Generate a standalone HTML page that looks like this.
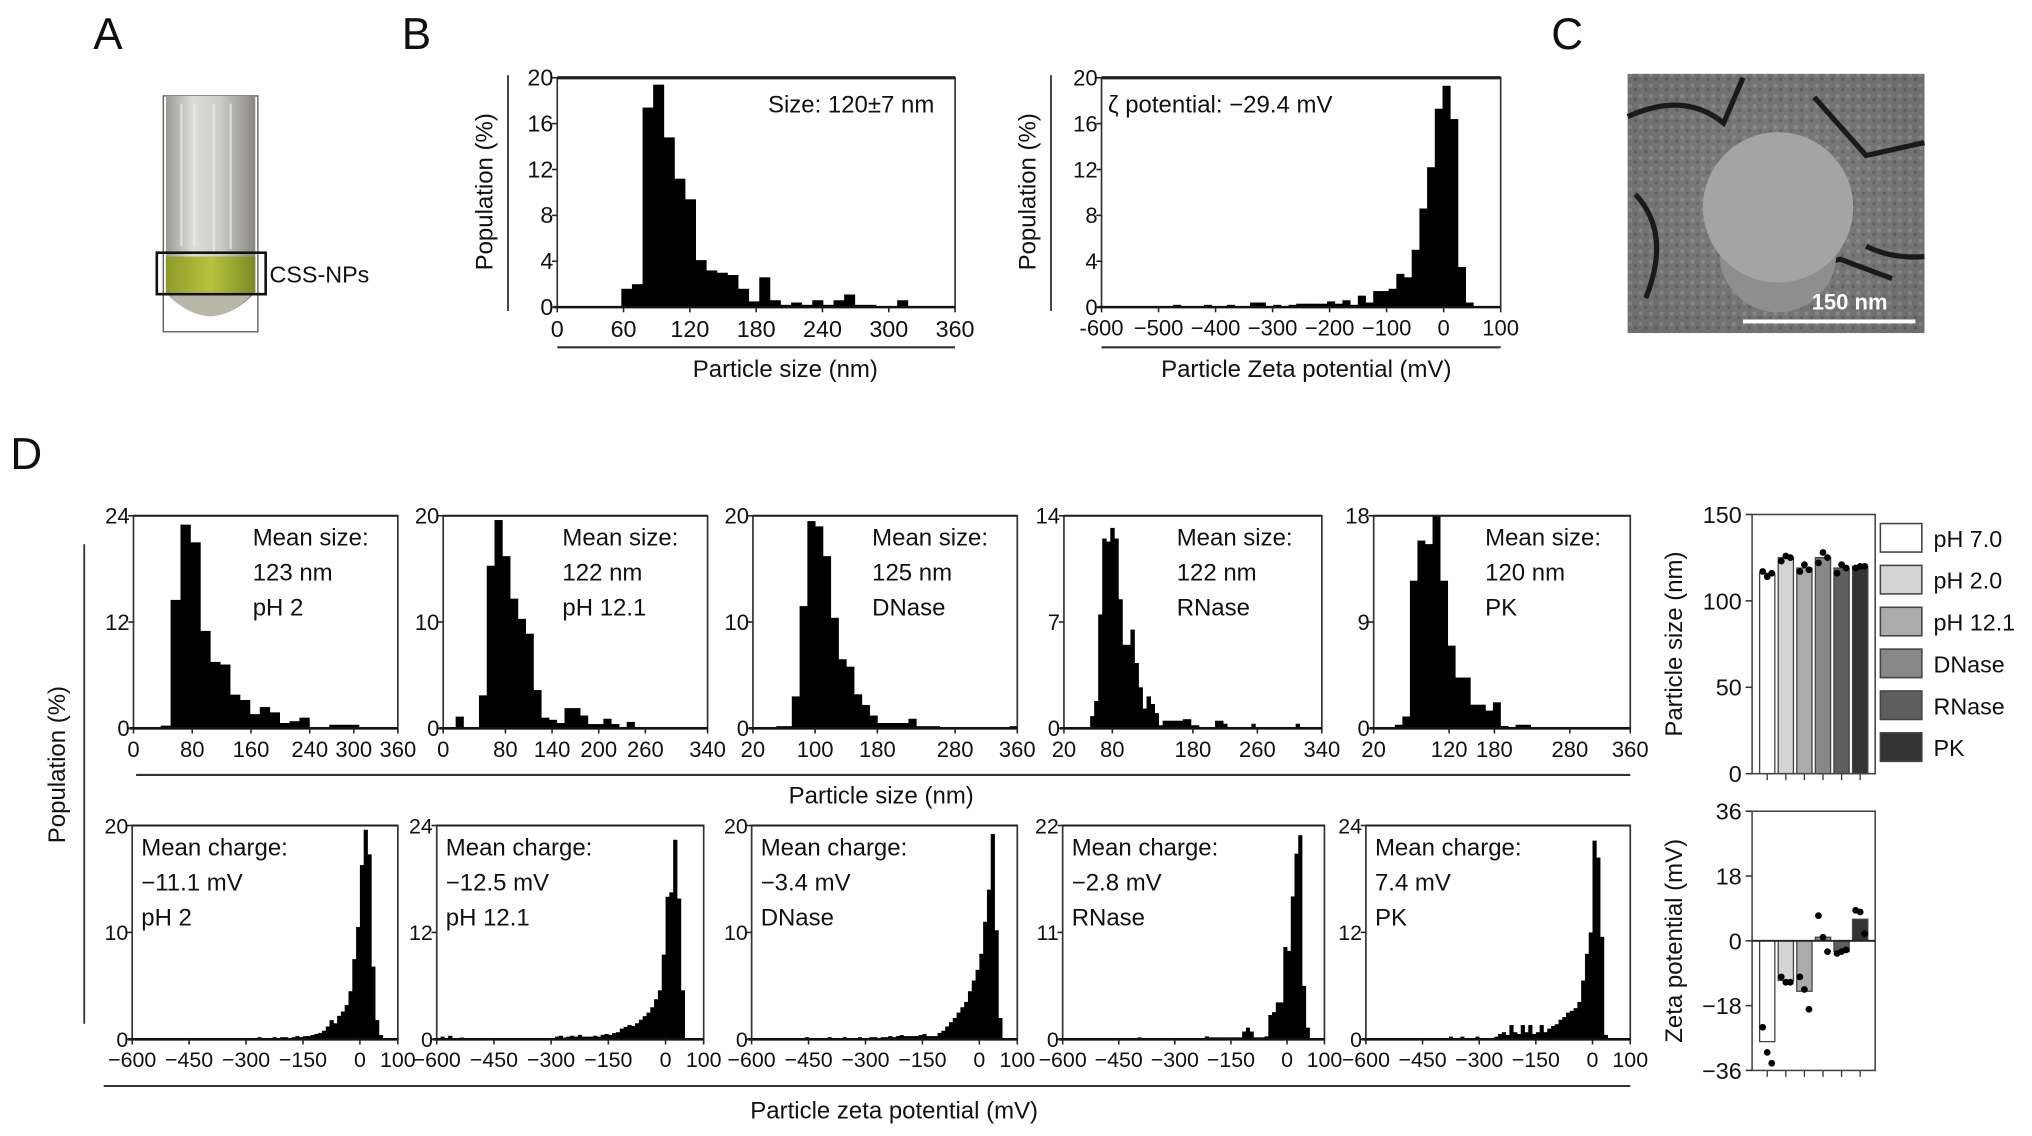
<!DOCTYPE html>
<html><head><meta charset="utf-8"><style>
html,body{margin:0;padding:0;background:#fff;}
svg{display:block;font-family:"Liberation Sans",Arial,sans-serif;}
</style></head><body>
<svg id="fig" width="2032" height="1136" viewBox="0 0 1568 876.6" xmlns="http://www.w3.org/2000/svg">
<defs>
<linearGradient id="tubeG" x1="0" x2="1" y1="0" y2="0">
<stop offset="0" stop-color="#9a9a96"/><stop offset="0.3" stop-color="#dcdcd8"/><stop offset="0.6" stop-color="#cdcdc9"/><stop offset="1" stop-color="#88887f"/></linearGradient>
<linearGradient id="bandG" x1="0" x2="1"><stop offset="0" stop-color="#8f9a2a"/><stop offset="0.5" stop-color="#b8c23e"/><stop offset="1" stop-color="#7d8a24"/></linearGradient>
<radialGradient id="semG" cx="0.5" cy="0.5" r="0.7"><stop offset="0" stop-color="#8a8a8a"/><stop offset="1" stop-color="#5e5e5e"/></radialGradient>
<pattern id="semP" width="8" height="8" patternUnits="userSpaceOnUse"><rect width="8" height="8" fill="#787878"/><circle cx="2" cy="2" r="1.6" fill="#9a9a9a"/><circle cx="6" cy="5" r="1.3" fill="#555"/></pattern>
</defs>
<g font-size="34" fill="#111">
<text x="72" y="38">A</text>
<text x="310" y="38">B</text>
<text x="1197" y="38">C</text>
<text x="8" y="362">D</text>
</g>
<g>
<rect x="126" y="74" width="73" height="182" fill="#fff" stroke="#555" stroke-width="1"/>
<path d="M128 74 L197 74 L197 226 Q162 262 128 226 Z" fill="url(#tubeG)"/>
<path d="M150 80 L150 190 M165 80 L165 195 M178 80 L178 192 M140 80 L140 190" stroke="#eeeeea" stroke-width="2" opacity="0.6"/>
<rect x="128" y="198" width="69" height="28" fill="url(#bandG)"/>
<path d="M130 226 Q162 262 195 226 Z" fill="#b9b7a8"/>
<rect x="121" y="195" width="84" height="32" fill="none" stroke="#111" stroke-width="2"/>
<text x="208" y="218" font-size="18" fill="#111">CSS-NPs</text>
</g>
<g>
<rect x="1256" y="57" width="229" height="200" fill="url(#semP)"/>
<rect x="1256" y="57" width="229" height="200" fill="url(#semG)" opacity="0.45"/>
<path d="M1256 90 Q1300 70 1330 95 L1345 60 M1400 75 L1440 120 L1485 110 M1262 150 Q1290 180 1270 230 M1440 190 Q1460 200 1485 198 M1380 210 L1420 200 L1460 215" stroke="#1a1a1a" stroke-width="4" fill="none"/>
<circle cx="1372" cy="196" r="45" fill="#8e8e8e"/>
<circle cx="1372" cy="160" r="58" fill="#a4a4a4"/>
<line x1="1345" y1="248" x2="1478" y2="248" stroke="#fff" stroke-width="3"/>
<text x="1398" y="239" font-size="17" font-weight="bold" fill="#fff">150 nm</text>
</g>
<g id="charts"></g>
</svg>
<script>
// ---------- data ----------
const b1Values = [1.6,2,17.4,19.4,14.8,11.2,9.4,4.1,3.2,3.0,2.8,1.6,0.5,2.6,0.6,0.2,0.4,0.2,0.6,0.2,0.6,1.1,0.2,0.2,0,0,0.6];
const b2Values = [0,0,0,0,0,0,0,0,0,0.2,0,0,0,0.2,0,0,0.2,0,0,0.4,0.4,0,0.2,0,0.2,0.3,0.3,0.3,0.3,0.5,0.3,0.6,0.2,1.0,0.4,1.4,1.4,1.6,2.9,2.6,5,8.6,12.2,17.3,19.3,16.4,3.5,0.4];
const b1Ticks = [0,60,120,180,240,300,360];
const b2Ticks = [-600,-500,-400,-300,-200,-100,0,100];
const b2TickLabels = ["-600","\u2212500","\u2212400","\u2212300","\u2212200","\u2212100","0","100"];
const bYTicks = [0,4,8,12,16,20];

const sizePH2 = [0.3,14.5,23,21,11,7.5,7.2,3.8,3.2,1.6,2.4,1.8,0.6,0.8,1.2,0,0,0.4,0.4,0.4,0,0,0,0,0.4];
const sizePH12 = [1.1,0,0,3.1,15.3,19.6,16.2,12.2,10.3,8.9,3.6,1,0.8,0.5,1.9,1.9,1.2,0.4,0.4,0.9,0.4,0,0.6];
const sizeDNase = [0.2,0.2,3,11.5,19.5,19,16.2,10.4,6.5,5.8,3.2,2.2,1.2,0.5,0.5,0.5,0.5,0.9,0.2,0.2,0.2,0,0,0,0,0,0,0,0,0,0.2];
const sizeRNase = [0.8,1.8,7.5,12.5,12.3,13.2,12.5,8.5,5.5,5.5,6.5,4.3,2.7,1.3,2.1,1.6,1,0.2,0.5,0.5,0.5,0.5,0.5,0.6,0.6,0.2,0.2,0,0,0,0,0.5,0.5,0.3,0,0,0,0,0,0,0.3,0,0,0,0,0,0,0,0,0,0,0.3];
const sizePK = [0.3,1,12.5,15.9,15.6,18,12.5,7,4.3,4.3,2,2,1.5,2.2,0.2,0,0.3,0.3];

const zetaPH2 = [0,0,0,0,0,0,0,0,0,0,0,0,0,0,0,0,0,0,0,0,0,0,0,0,0,0,0,0,0,0,0,0,0,0.2,0,0,0,0.2,0,0.2,0.2,0,0.2,0.3,0.2,0.3,0.3,0.4,0.5,0.6,0.8,1.2,1.8,1.5,2.2,2.6,3.2,4.5,7.5,10.5,16.3,19.6,17.3,6.8,1.8,0.4,0,0,0,0];
const zetaPH12 = [0,0.3,0,0.4,0,0,0.2,0,0,0,0,0,0,0,0,0,0,0,0,0,0,0,0,0,0,0,0,0,0,0,0,0.3,0.4,0.2,0.3,0.4,0.3,0.5,0.3,0.3,0.3,0.4,0.3,0.5,0.6,0.5,0.7,0.8,1.2,1.4,1.6,1.5,1.8,2.2,2.6,3.0,3.6,4.5,5.5,9.5,16,16.5,22.4,15.8,5.5,0,0,0,0,0];
const zetaDNase = [0,0,0,0,0,0,0,0,0,0,0,0,0,0,0.2,0,0,0,0,0,0.2,0,0,0,0.2,0,0,0,0.2,0,0,0.2,0.2,0,0.2,0.2,0.3,0.2,0.3,0.4,0.3,0.3,0.3,0.3,0.4,0.5,0.3,0.3,0.3,0.6,0.8,1.2,1.6,2,2.5,3,3.5,4.5,5.5,6.5,8,11,14,19.2,10.2,2,0,0,0,0];
const zetaRNase = [0,0,0,0,0,0,0,0,0,0,0,0,0,0,0,0,0,0,0,0,0.2,0,0,0,0,0,0,0,0,0,0,0,0,0,0,0,0,0,0.3,0.2,0.2,0.2,0.2,0.2,0.2,0.2,0.2,0.2,0.8,1.2,0.8,0.2,0.2,0.2,0.3,2.5,2.8,3.8,3.8,9.5,9.1,14.7,19.1,21,5.5,1.2,0,0,0,0];
const zetaPK = [0,0,0,0,0,0,0,0,0,0,0,0,0,0,0,0,0,0,0,0,0,0,0.3,0,0,0.3,0,0,0,0.3,0,0,0,0,0.3,0.6,0.8,0.5,1.6,0.8,0.6,1.6,0.8,1.6,0.6,0.8,1.6,0.8,1.2,1.5,1.7,2.2,2.5,3,3.2,3.5,4.2,6.6,9.6,12,22.3,20.4,11.5,0.5,0,0,0,0,0,0];

const barCategories = ["pH 7.0","pH 2.0","pH 12.1","DNase","RNase","PK"];
const barSizeMeans = [116,125,119,125,119,120];
const barSizeDots = [[117,114,116],[123,126,125],[117,121,118],[122,128,125],[116,121,119],[119,120,120]];
const barZetaMeans = [-28,-11,-14,1,-3,6];
const barZetaDots = [[-24,-31,-34],[-10,-11.5,-11.5],[-10,-13.5,-19],[7,1,-3],[-3.5,-3,-2.5],[8.5,8,2]];
const sizeBarTicks = [0,50,100,150];
const zetaBarTicks = [-36,-18,0,18,36];
const zetaBarTickLabels = ["\u221236","\u221218","0","18","36"];
const barColors = ["#ffffff","#d4d4d4","#ababab","#888888","#5e5e5e","#333333"];

// ---------- helpers ----------
const NS = 'http://www.w3.org/2000/svg';
const root = document.getElementById('charts');
function mk(tag, attrs, parent) {
  const e = document.createElementNS(NS, tag);
  for (const k in attrs) e.setAttribute(k, attrs[k]);
  (parent || root).appendChild(e);
  return e;
}
function txt(s, x, y, size, anchor, parent) {
  const t = mk('text', {x: x, y: y, 'font-size': size, 'text-anchor': anchor || 'start', fill: '#111'}, parent);
  t.textContent = s;
  return t;
}

function drawHist(cfg) {
  const g = mk('g', {});
  
  
  const {x0, x1, y0, y1} = cfg;
  const xs = v => x0 + (v - cfg.xmin) / (cfg.xmax - cfg.xmin) * (x1 - x0);
  const ys = v => y1 - v / cfg.ymax * (y1 - y0);
  cfg.values.forEach((v, i) => {
    if (v <= 0) return;
    const a = Math.max(x0, xs(cfg.binStart + i * cfg.binWidth));
    const b = Math.min(x1, xs(cfg.binStart + (i + 1) * cfg.binWidth));
    if (b <= a) return;
    const r = mk('rect', {x: a, y: ys(Math.min(v, cfg.ymax)), width: b - a + 0.3, height: y1 - ys(Math.min(v, cfg.ymax)), fill: '#000'}, g);
    
    
  });
  const box = mk('rect', {x: x0, y: y0, width: x1 - x0, height: y1 - y0, fill: 'none', stroke: '#333', 'stroke-width': 1.3}, g);
  
  
  mk('line', {x1: x0, x2: x1, y1: y0, y2: y0, stroke: '#222', 'stroke-width': cfg.topW || 1.6}, g);
  mk('line', {x1: x0 - 3, x2: x1, y1: y1, y2: y1, stroke: '#111', 'stroke-width': 2}, g);
  cfg.yticks.forEach(v => {
    mk('line', {x1: x0 - 4, x2: x0, y1: ys(v), y2: ys(v), stroke: '#222', 'stroke-width': 1.2}, g);
    const t = txt(String(v), x0 - 3, ys(v) + 6, cfg.fs, 'end', g);
    
    
  });
  cfg.xticks.forEach((v, i) => {
    mk('line', {x1: xs(v), x2: xs(v), y1: y1, y2: y1 + 4, stroke: '#222', 'stroke-width': 1.2}, g);
    const t = txt(cfg.xlabels ? cfg.xlabels[i] : String(v), xs(v), y1 + cfg.fs + 5, cfg.fs, 'middle', g);
    
    
  });
  (cfg.notes || []).forEach((s, i) => {
    const t = txt(s, cfg.noteX, cfg.noteY + i * 27, 18.5, cfg.noteAnchor || 'start', g);
    
    
  });
  return g;
}

// ---------- panel B ----------
drawHist({name: 'size-histogram-b', x0: 430, x1: 737, y0: 60, y1: 237, xmin: 0, xmax: 360, ymax: 20,
  yticks: bYTicks, xticks: b1Ticks, binStart: 58, binWidth: 9.6, values: b1Values, fs: 18, topW: 2.5,
  notes: ['Size: 120\u00b17 nm'], noteX: 721, noteY: 87, noteAnchor: 'end'});
drawHist({name: 'zeta-histogram-b', x0: 850, x1: 1158, y0: 60, y1: 237, xmin: -600, xmax: 100, ymax: 20,
  yticks: bYTicks, xticks: b2Ticks, xlabels: b2TickLabels, binStart: -596, binWidth: 13.5, values: b2Values, fs: 17, topW: 2.5,
  notes: ['\u03b6 potential: \u221229.4 mV'], noteX: 855, noteY: 87});
[[392, 148], [811, 148]].forEach(p => {
  mk('line', {x1: p[0], x2: p[0], y1: 58, y2: 240, stroke: '#333', 'stroke-width': 1.4});
  const t = txt('Population (%)', 0, 0, 18.5, 'middle');
  t.setAttribute('transform', `translate(${p[0] - 12},${p[1]}) rotate(-90)`);
  
  
});
mk('line', {x1: 430, x2: 737, y1: 268, y2: 268, stroke: '#333', 'stroke-width': 1.6});
mk('line', {x1: 850, x2: 1158, y1: 268, y2: 268, stroke: '#333', 'stroke-width': 1.6});
let tt = txt('Particle size (nm)', 606, 291, 18.5, 'middle');


tt = txt('Particle Zeta potential (mV)', 1008, 291, 18.5, 'middle');



// ---------- panel D size row ----------
const sizeRow = [
  {name: 'size-hist-ph2', x0: 103, x1: 307, xmin: 0, xmax: 360, ymax: 24, yticks: [0,12,24], xticks: [0,80,160,240,300,360], binStart: 37, binWidth: 13.5, values: sizePH2, notes: ['Mean size:','123 nm','pH 2']},
  {name: 'size-hist-ph12', x0: 342, x1: 546, xmin: 0, xmax: 340, ymax: 20, yticks: [0,10,20], xticks: [0,80,140,200,260,340], binStart: 16, binWidth: 10, values: sizePH12, notes: ['Mean size:','122 nm','pH 12.1']},
  {name: 'size-hist-dnase', x0: 581, x1: 785, xmin: 20, xmax: 360, ymax: 20, yticks: [0,10,20], xticks: [20,100,180,280,360], binStart: 50, binWidth: 10, values: sizeDNase, notes: ['Mean size:','125 nm','DNase']},
  {name: 'size-hist-rnase', x0: 821, x1: 1020, xmin: 20, xmax: 340, ymax: 14, yticks: [0,7,14], xticks: [20,80,180,260,340], binStart: 52.5, binWidth: 5, values: sizeRNase, notes: ['Mean size:','122 nm','RNase']},
  {name: 'size-hist-pk', x0: 1060, x1: 1258, xmin: 20, xmax: 360, ymax: 18, yticks: [0,9,18], xticks: [20,120,180,280,360], binStart: 48, binWidth: 10, values: sizePK, notes: ['Mean size:','120 nm','PK']}
];
sizeRow.forEach(c => drawHist(Object.assign({y0: 398, y1: 562, fs: 17, noteX: c.x1 - 112, noteY: 421}, c)));

// ---------- panel D zeta row ----------
const zTicks = [-600,-450,-300,-150,0,100];
const zLabels = ['\u2212600','\u2212450','\u2212300','\u2212150','0','100'];
const zetaRow = [
  {name: 'zeta-hist-ph2', x0: 102, x1: 307, ymax: 20, yticks: [0,10,20], values: zetaPH2, notes: ['Mean charge:','\u221211.1 mV','pH 2']},
  {name: 'zeta-hist-ph12', x0: 337, x1: 543, ymax: 24, yticks: [0,12,24], values: zetaPH12, notes: ['Mean charge:','\u221212.5 mV','pH 12.1']},
  {name: 'zeta-hist-dnase', x0: 580, x1: 785, ymax: 20, yticks: [0,10,20], values: zetaDNase, notes: ['Mean charge:','\u22123.4 mV','DNase']},
  {name: 'zeta-hist-rnase', x0: 820, x1: 1022, ymax: 22, yticks: [0,11,22], values: zetaRNase, notes: ['Mean charge:','\u22122.8 mV','RNase']},
  {name: 'zeta-hist-pk', x0: 1054, x1: 1258, ymax: 24, yticks: [0,12,24], values: zetaPK, notes: ['Mean charge:','7.4 mV','PK']}
];
zetaRow.forEach(c => drawHist(Object.assign({y0: 637, y1: 802, xmin: -600, xmax: 100, xticks: zTicks, xlabels: zLabels, binStart: -600, binWidth: 10, fs: 16.5, noteX: c.x0 + 7, noteY: 660}, c)));

mk('line', {x1: 105, x2: 1258, y1: 598, y2: 598, stroke: '#333', 'stroke-width': 1.6});
mk('line', {x1: 80, x2: 1258, y1: 838, y2: 838, stroke: '#333', 'stroke-width': 1.6});
mk('line', {x1: 65, x2: 65, y1: 420, y2: 790, stroke: '#333', 'stroke-width': 1.4});
tt = txt('Particle size (nm)', 680, 620, 18.5, 'middle');


tt = txt('Particle zeta potential (mV)', 690, 863, 18.5, 'middle');


tt = txt('Population (%)', 0, 0, 18.5, 'middle');
tt.setAttribute('transform', 'translate(50,590) rotate(-90)');



// ---------- bar charts ----------
function drawBars(cfg) {
  const g = mk('g', {});
  
  
  const {x0, x1, y0, y1} = cfg;
  const ys = v => y1 - (v - cfg.ymin) / (cfg.ymax - cfg.ymin) * (y1 - y0);
  const W = x1 - x0, band = W * 0.151, bw = band * 0.82;
  const cx = i => x0 + W * 0.123 + i * band;
  cfg.means.forEach((m, i) => {
    const top = Math.min(ys(m), ys(0)), h = Math.abs(ys(m) - ys(0));
    const r = mk('rect', {x: cx(i) - bw / 2, y: top, width: bw, height: h, fill: barColors[i], stroke: '#444', 'stroke-width': 1}, g);
    
    
    cfg.dots[i].forEach((d, j) => {
      const c = mk('circle', {cx: cx(i) + (j - 1) * 3.5, cy: ys(d), r: 2.6, fill: '#000'}, g);
      
      
    });
    mk('line', {x1: cx(i), x2: cx(i), y1: y1, y2: y1 + 5, stroke: '#333'}, g);
  });
  mk('rect', {x: x0, y: y0, width: W, height: y1 - y0, fill: 'none', stroke: '#444', 'stroke-width': 1.2}, g);
  if (cfg.ymin < 0) mk('line', {x1: x0, x2: x1, y1: ys(0), y2: ys(0), stroke: '#222', 'stroke-width': 1.5}, g);
  cfg.ticks.forEach((v, i) => {
    mk('line', {x1: x0 - 5, x2: x0, y1: ys(v), y2: ys(v), stroke: '#333', 'stroke-width': 1.2}, g);
    const t = txt(cfg.labels ? cfg.labels[i] : String(v), x0 - 8, ys(v) + 6.5, 18, 'end', g);
    
    
  });
  const t = txt(cfg.title, 0, 0, 18.5, 'middle', g);
  t.setAttribute('transform', `translate(${x0 - 54},${(y0 + y1) / 2}) rotate(-90)`);
  
  
}
drawBars({name: 'size-bar-chart', x0: 1352, x1: 1447, y0: 397, y1: 597, ymin: 0, ymax: 150, means: barSizeMeans, dots: barSizeDots, ticks: sizeBarTicks, title: 'Particle size (nm)'});
drawBars({name: 'zeta-bar-chart', x0: 1352, x1: 1447, y0: 626, y1: 826, ymin: -36, ymax: 36, means: barZetaMeans, dots: barZetaDots, ticks: zetaBarTicks, labels: zetaBarTickLabels, title: 'Zeta potential (mV)'});

const lg = mk('g', {});


barCategories.forEach((c, i) => {
  const y = 404 + i * 32.3;
  const r = mk('rect', {x: 1451, y: y, width: 32, height: 22, fill: barColors[i], stroke: '#444', 'stroke-width': 1.2}, lg);
  
  
  const t = txt(c, 1492, y + 18, 18, 'start', lg);
  
  
});
</script>
</body></html>
